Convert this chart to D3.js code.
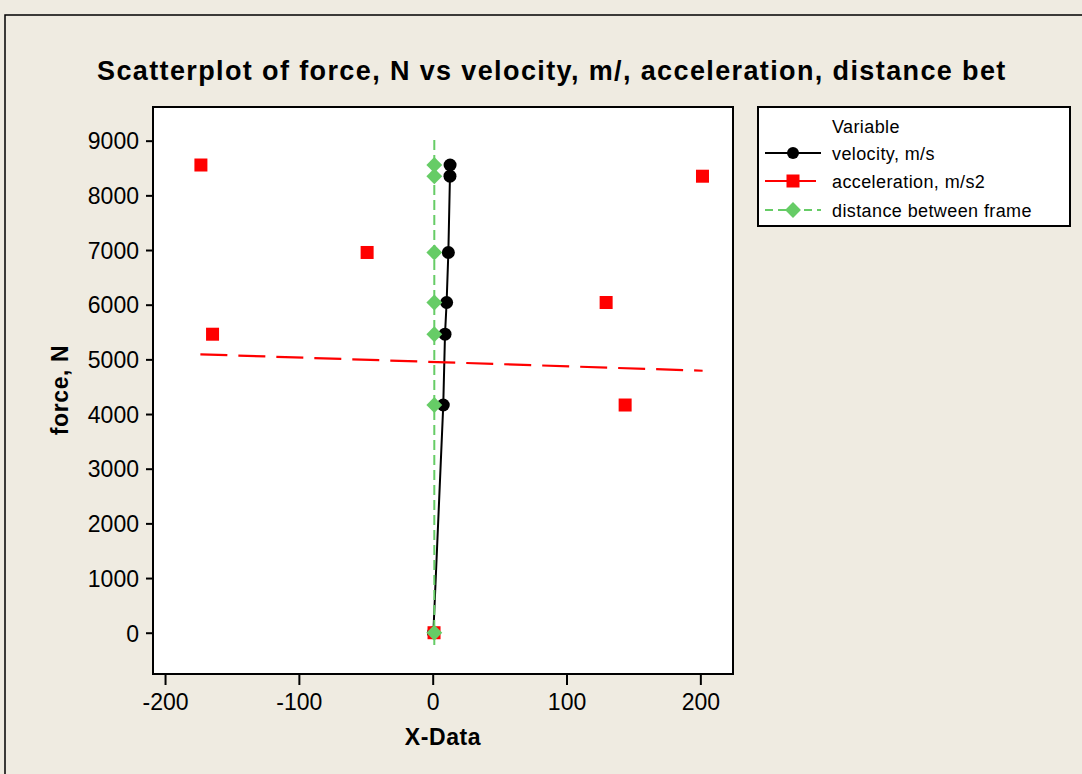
<!DOCTYPE html>
<html>
<head>
<meta charset="utf-8">
<script src="https://cdn.jsdelivr.net/npm/d3@7"></script>
<style>
  body { margin: 0; background: #efebe1; }
  svg { display: block; font-family: "Liberation Sans", Arial, sans-serif; }
</style>
</head>
<body>
<div id="chart"></div>
<script>
// data
var force        = [0, 4165, 5460, 6040, 6955, 8350, 8555];
var velocity     = [0.5, 7.9, 9.2, 10.4, 11.7, 12.9, 13.0];
var acceleration = [1.0, 143.8, -164.5, 129.6, -49, 201.6, -173.2];
var distance     = [1.2, 1.2, 1.2, 1.2, 1.2, 1.2, 1.2];

// fitted lines drawn in the reference (end points)
var accelFitX = [-173.6, 201.7];
var accelFitY = [5092, 4792];
var distFitX  = [1.2, 1.2];
var distFitY  = [-225, 9045];

var xTicks = [-200, -100, 0, 100, 200];
var yTicks = [0, 1000, 2000, 3000, 4000, 5000, 6000, 7000, 8000, 9000];

var seriesNames = ["velocity, m/s", "acceleration, m/s2", "distance between frame"];

var W = 1082, H = 774;
var plot = {left: 153, top: 107, right: 733, bottom: 674};

var svg = d3.select("#chart")
    .append("svg")
    .attr("width", W)
    .attr("height", H);

// outer frame
svg.append("rect")
    .attr("x", 5).attr("y", 15)
    .attr("width", 1100).attr("height", 800)
    .attr("fill", "#efebe1")
    .attr("stroke", "#000").attr("stroke-width", 1.5);

// title
svg.append("text")
    .attr("x", 97).attr("y", 80)
    .style("font-size", "27px")
    .style("font-weight", "bold")
    .style("letter-spacing", "1.38px")
    .text("Scatterplot of force, N vs velocity, m/, acceleration, distance bet");

var x = d3.scaleLinear()
    .domain([-209, 224.4])
    .range([plot.left, plot.right]);

var y = d3.scaleLinear()
    .domain([-755, 9616])
    .range([plot.bottom, plot.top]);

// plot area
svg.append("rect")
    .attr("x", plot.left).attr("y", plot.top)
    .attr("width", plot.right - plot.left)
    .attr("height", plot.bottom - plot.top)
    .attr("fill", "#fff")
    .attr("stroke", "#000").attr("stroke-width", 2);

svg.append("clipPath").attr("id", "clip")
    .append("rect")
    .attr("x", plot.left).attr("y", plot.top)
    .attr("width", plot.right - plot.left)
    .attr("height", plot.bottom - plot.top);

// axes
var plain = function (d) { return String(d); };
var xAxis = svg.append("g")
    .attr("transform", "translate(0," + (plot.bottom + 1) + ")")
    .call(d3.axisBottom(x).tickValues(xTicks).tickFormat(plain)
        .tickSize(10).tickSizeOuter(0).tickPadding(8));
var yAxis = svg.append("g")
    .attr("transform", "translate(" + (plot.left - 1) + ",0)")
    .call(d3.axisLeft(y).tickValues(yTicks).tickFormat(plain)
        .tickSize(6).tickSizeOuter(0).tickPadding(7));

[xAxis, yAxis].forEach(function (a) {
    a.select(".domain").remove();
    a.selectAll(".tick line").attr("stroke", "#000").attr("stroke-width", 2);
    a.selectAll(".tick text")
        .attr("fill", "#000")
        .style("font-size", "23px")
        .style("font-family", "'Liberation Sans', Arial, sans-serif");
});
yAxis.selectAll(".tick text").attr("dy", "0.36em");
xAxis.selectAll(".tick text").attr("dy", "0.72em");

// axis titles
svg.append("text")
    .attr("x", 443).attr("y", 745)
    .attr("text-anchor", "middle")
    .style("font-size", "23px").style("font-weight", "bold")
    .style("letter-spacing", "0.6px")
    .text("X-Data");

svg.append("text")
    .attr("transform", "translate(68,390) rotate(-90)")
    .attr("text-anchor", "middle")
    .style("font-size", "23px").style("font-weight", "bold")
    .style("letter-spacing", "0.6px")
    .text("force, N");

var g = svg.append("g").attr("clip-path", "url(#clip)");
var line = d3.line();

function pts(xs, ys) {
    return xs.map(function (v, i) { return [x(v), y(ys[i])]; });
}

// velocity: connected black line with circles
var velPts = pts(velocity, force).sort(function (a, b) { return b[1] - a[1]; });
g.append("path")
    .attr("d", line(velPts))
    .attr("fill", "none").attr("stroke", "#000").attr("stroke-width", 2);

// acceleration fit, red dashed
g.append("path")
    .attr("d", line(pts(accelFitX, accelFitY)))
    .attr("fill", "none").attr("stroke", "#ff0000").attr("stroke-width", 2.2)
    .attr("stroke-dasharray", "27,11");

g.selectAll(".vel")
    .data(force)
    .enter().append("circle")
    .attr("cx", function (d, i) { return x(velocity[i]); })
    .attr("cy", function (d) { return y(d); })
    .attr("r", 6.5)
    .attr("fill", "#000");

g.selectAll(".acc")
    .data(force)
    .enter().append("rect")
    .attr("x", function (d, i) { return x(acceleration[i]) - 6.5; })
    .attr("y", function (d) { return y(d) - 6.5; })
    .attr("width", 13).attr("height", 13)
    .attr("fill", "#ff0000");

// distance fit, green dashed
g.append("path")
    .attr("d", line(pts(distFitX, distFitY)))
    .attr("fill", "none").attr("stroke", "#66cc66").attr("stroke-width", 2)
    .attr("stroke-dasharray", "10,5");

var diamond = d3.symbol().type(d3.symbolDiamond2).size(160);
g.selectAll(".dist")
    .data(force)
    .enter().append("path")
    .attr("d", diamond)
    .attr("transform", function (d, i) { return "translate(" + x(distance[i]) + "," + y(d) + ")"; })
    .attr("fill", "#66cc66");

// legend
var leg = svg.append("g");
leg.append("rect")
    .attr("x", 758).attr("y", 107)
    .attr("width", 312).attr("height", 119)
    .attr("fill", "#fff")
    .attr("stroke", "#000").attr("stroke-width", 2);

leg.append("text")
    .attr("x", 832).attr("y", 133)
    .style("font-size", "18px").style("letter-spacing", "0.4px")
    .text("Variable");

var rowY = [153, 181, 210];
var rowColor = ["#000", "#ff0000", "#66cc66"];
var rowDash = [null, null, "8,5"];

seriesNames.forEach(function (name, i) {
    leg.append("line")
        .attr("x1", 765).attr("x2", i === 1 ? 816 : 821)
        .attr("y1", rowY[i]).attr("y2", rowY[i])
        .attr("stroke", rowColor[i]).attr("stroke-width", 2)
        .attr("stroke-dasharray", rowDash[i]);
    if (i === 0) {
        leg.append("circle").attr("cx", 793).attr("cy", rowY[i]).attr("r", 6).attr("fill", "#000");
    } else if (i === 1) {
        leg.append("rect").attr("x", 786.5).attr("y", rowY[i] - 6.5)
            .attr("width", 13).attr("height", 13).attr("fill", "#ff0000");
    } else {
        leg.append("path").attr("d", diamond)
            .attr("transform", "translate(793," + rowY[i] + ")")
            .attr("fill", "#66cc66");
    }
    leg.append("text")
        .attr("x", 832).attr("y", rowY[i] + 6.5)
        .style("font-size", "18px").style("letter-spacing", "0.4px")
        .text(name);
});
</script>
</body>
</html>
